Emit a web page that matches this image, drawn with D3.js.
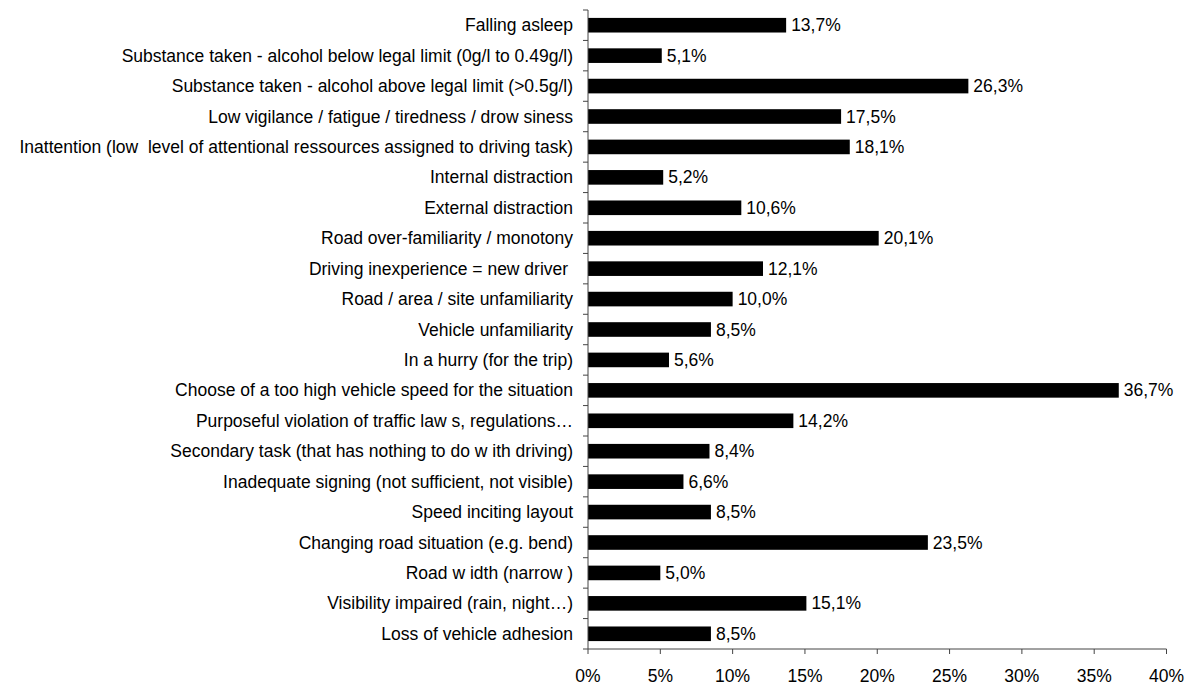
<!DOCTYPE html>
<html>
<head>
<meta charset="utf-8">
<script src="https://cdn.jsdelivr.net/npm/d3@7"></script>
<style>
  body { margin: 0; background: #fff; }
  text { font-family: "Liberation Sans", Arial, sans-serif; font-size: 17.5px; fill: #000; white-space: pre; }
</style>
</head>
<body>
<div id="chart"></div>
<script>
// categories, top to bottom
var categories = [
  'Falling asleep',
  'Substance taken - alcohol below legal limit (0g/l to 0.49g/l)',
  'Substance taken - alcohol above legal limit (>0.5g/l)',
  'Low vigilance / fatigue / tiredness / drow siness',
  'Inattention (low  level of attentional ressources assigned to driving task)',
  'Internal distraction',
  'External distraction',
  'Road over-familiarity / monotony',
  'Driving inexperience = new driver ',
  'Road / area / site unfamiliarity',
  'Vehicle unfamiliarity',
  'In a hurry (for the trip)',
  'Choose of a too high vehicle speed for the situation',
  'Purposeful violation of traffic law s, regulations\u2026',
  'Secondary task (that has nothing to do w ith driving)',
  'Inadequate signing (not sufficient, not visible)',
  'Speed inciting layout',
  'Changing road situation (e.g. bend)',
  'Road w idth (narrow )',
  'Visibility impaired (rain, night\u2026)',
  'Loss of vehicle adhesion'
] ;
var values = [13.7, 5.1, 26.3, 17.5, 18.1, 5.2, 10.6, 20.1, 12.1, 10.0, 8.5, 5.6, 36.7, 14.2, 8.4, 6.6, 8.5, 23.5, 5.0, 15.1, 8.5] ;
var xTicks = [0, 5, 10, 15, 20, 25, 30, 35, 40] ;

( function() {
  var width = 1192, height = 686 ;
  var left = 588, right = 1166.5, plotTop = 10, plotBottom = 649 ;

  var svg = d3.select('#chart').append('svg').attr('width', width).attr('height', height) ;

  var x = d3.scaleLinear().domain([0, 40]).range([left, right]) ;
  var y = d3.scaleBand().domain(categories).range([plotTop, plotBottom]).paddingInner(0.52).paddingOuter(0.26) ;
  var yb = d3.scaleBand().domain(categories).range([plotTop, plotBottom]) ;

  // bars
  svg.selectAll('rect.bar').data(values).enter().append('rect')
    .attr('class', 'bar')
    .attr('x', x(0))
    .attr('y', function(d, i) { return y(categories[i]) ; })
    .attr('width', function(d) { return x(d) - x(0) ; })
    .attr('height', y.bandwidth())
    .attr('fill', '#000') ;

  // value labels
  svg.selectAll('text.val').data(values).enter().append('text')
    .attr('class', 'val')
    .attr('x', function(d) { return x(d) + 5 ; })
    .attr('y', function(d, i) { return y(categories[i]) + y.bandwidth() / 2 ; })
    .attr('dy', '0.35em')
    .text(function(d) { return d.toFixed(1).replace('.', ',') + '%' ; }) ;

  // category axis
  var gy = svg.append('g').attr('transform', 'translate(' + left + ',0)') ;
  gy.append('line').attr('x1', 0).attr('x2', 0).attr('y1', plotTop).attr('y2', plotBottom).attr('stroke', '#444') ;
  var bounds = categories.map(function(c) { return yb(c) ; }).concat([plotBottom]) ;
  gy.selectAll('line.tk').data(bounds).enter().append('line')
    .attr('class', 'tk')
    .attr('x1', -5).attr('x2', 0)
    .attr('y1', function(d) { return d ; }).attr('y2', function(d) { return d ; })
    .attr('stroke', '#444') ;
  gy.selectAll('text').data(categories).enter().append('text')
    .attr('x', -15)
    .attr('y', function(d) { return yb(d) + yb.bandwidth() / 2 ; })
    .attr('dy', '0.35em')
    .attr('text-anchor', 'end')
    .text(function(d) { return d ; }) ;

  // value axis
  var gx = svg.append('g').attr('transform', 'translate(0,' + plotBottom + ')') ;
  gx.append('line').attr('x1', left).attr('x2', right).attr('stroke', '#444') ;
  gx.selectAll('line.tk').data(xTicks).enter().append('line')
    .attr('class', 'tk')
    .attr('x1', function(d) { return x(d) ; }).attr('x2', function(d) { return x(d) ; })
    .attr('y1', 0).attr('y2', 5)
    .attr('stroke', '#444') ;
  gx.selectAll('text').data(xTicks).enter().append('text')
    .attr('x', function(d) { return x(d) ; })
    .attr('y', 27)
    .attr('dy', '0.35em')
    .attr('text-anchor', 'middle')
    .text(function(d) { return d + '%' ; }) ;
} ) () ;
</script>
</body>
</html>
